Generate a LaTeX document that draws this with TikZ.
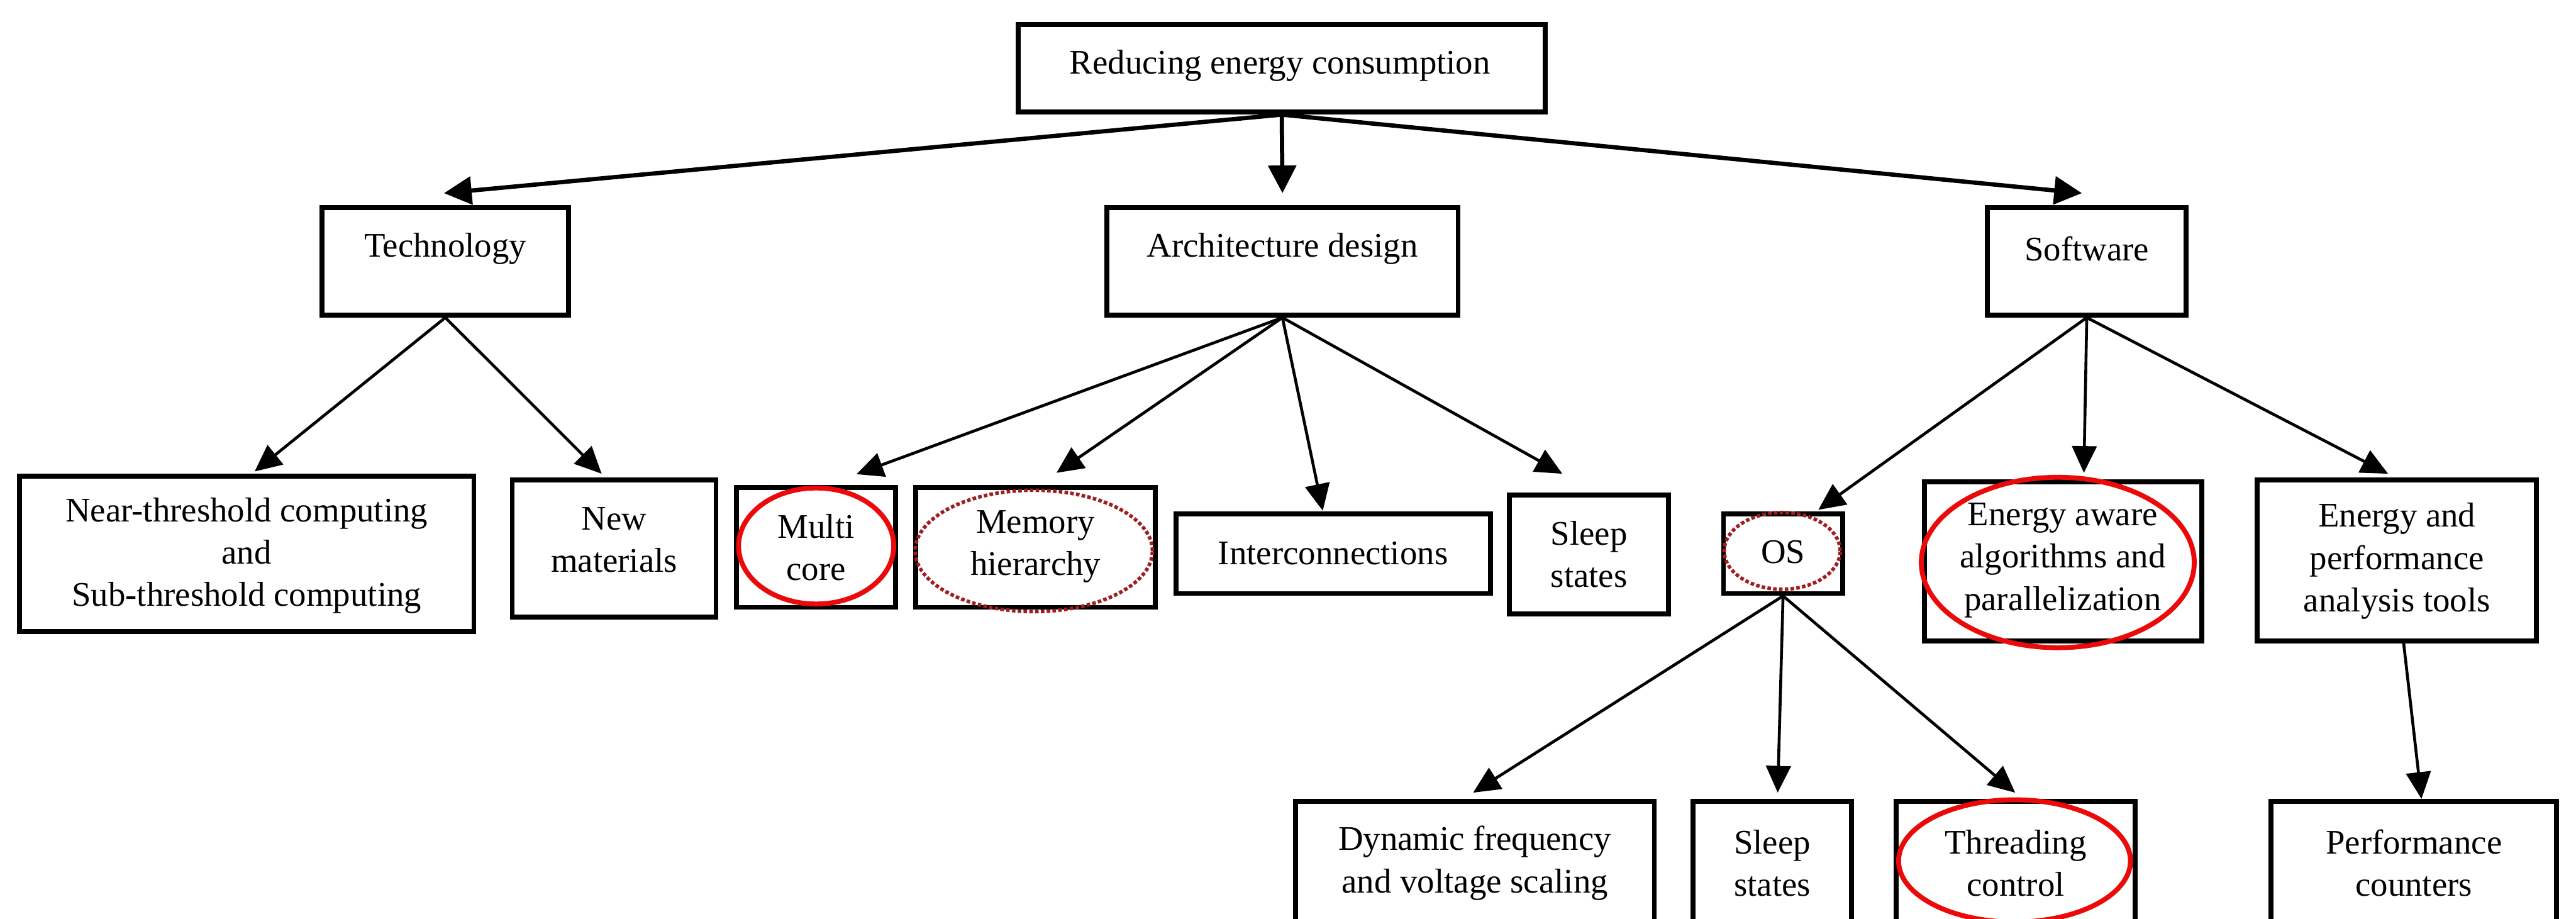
\documentclass[tikz,border=0pt]{standalone}
\usepackage{fontspec}
\setmainfont{Liberation Serif}
\usetikzlibrary{arrows.meta,calc,shapes.geometric}
\definecolor{ringred}{RGB}{235,10,10}
\definecolor{ringdark}{RGB}{160,30,30}
\tikzset{
  box/.style={draw, rectangle, line width=0.11cm, inner sep=0pt},
  txt/.style={font=\fontsize{22}{27}\selectfont, align=center, inner sep=0pt},
  arr/.style={line width=0.065cm, -{Triangle[length=0.6cm,width=0.55cm]}},
  toparr/.style={line width=0.095cm, -{Triangle[length=0.62cm,width=0.62cm]}},
  ring/.style={ellipse, draw=ringred, line width=0.11cm, inner sep=0pt},
  dring/.style={ellipse, draw=ringdark, line width=0.08cm, dash pattern=on 0.08cm off 0.05cm, inner sep=0pt},
}
\begin{document}
\begin{tikzpicture}
\useasboundingbox (0,0) rectangle (57.76,-20.59);
\clip (0,0) rectangle (57.76,-20.59);
\fill[white] (0,0) rectangle (57.76,-20.59);

% root
\node[box, minimum width=11.81cm, minimum height=1.97cm] (root) at (28.74,-1.53) {};
\node[txt] (troot) at (28.70,-1.47) {Reducing energy consumption};

% level 1
\node[box, minimum width=5.52cm, minimum height=2.41cm] (tech) at (9.985,-5.86) {};
\node[txt] (ttech) at (9.985,-5.58) {Technology};
\node[box, minimum width=7.88cm, minimum height=2.41cm] (arch) at (28.755,-5.86) {};
\node[txt] (tarch) at (28.755,-5.58) {Architecture design};
\node[box, minimum width=4.45cm, minimum height=2.41cm] (soft) at (46.79,-5.86) {};
\node[txt] (tsoft) at (46.79,-5.58) {Software};

% level 2
\node[box, minimum width=10.19cm, minimum height=3.48cm] (nt) at (5.53,-12.415) {};
\node[txt] (tnt) at (5.53,-12.46) {Near-threshold computing\\and\\Sub-threshold computing};
\node[box, minimum width=4.57cm, minimum height=3.07cm] (nm) at (13.77,-12.30) {};
\node[txt] (tnm) at (13.77,-12.10) {New\\materials};
\node[box, minimum width=3.56cm, minimum height=2.69cm] (mc) at (18.295,-12.27) {};
\node[txt] (tmc) at (18.30,-12.27) {Multi\\core};
\node[box, minimum width=5.37cm, minimum height=2.69cm] (mh) at (23.22,-12.27) {};
\node[txt] (tmh) at (23.22,-12.25) {Memory\\hierarchy};
\node[box, minimum width=7.05cm, minimum height=1.78cm] (ic) at (29.89,-12.415) {};
\node[txt] (tic) at (29.89,-12.40) {Interconnections};
\node[box, minimum width=3.57cm, minimum height=2.67cm] (ss) at (35.63,-12.43) {};
\node[txt] (tss) at (35.63,-12.43) {Sleep\\states};
\node[box, minimum width=2.67cm, minimum height=1.78cm] (os) at (39.98,-12.415) {};
\node[txt] (tos) at (39.98,-12.38) {OS};
\node[box, minimum width=6.22cm, minimum height=3.56cm] (ea) at (46.255,-12.585) {};
\node[txt] (tea) at (46.25,-12.56) {Energy aware\\algorithms and\\parallelization};
\node[box, minimum width=6.26cm, minimum height=3.60cm] (ep) at (53.745,-12.565) {};
\node[txt] (tep) at (53.745,-12.58) {Energy and\\performance\\analysis tools};

% level 3
\node[box, minimum width=8.05cm, minimum height=3.49cm] (dv) at (33.07,-19.71) {};
\node[txt] (tdv) at (33.07,-19.35) {Dynamic frequency\\and voltage scaling};
\node[box, minimum width=3.55cm, minimum height=3.49cm] (ss2) at (39.74,-19.71) {};
\node[txt] (tss2) at (39.74,-19.35) {Sleep\\states};
\node[box, minimum width=5.36cm, minimum height=3.49cm] (tc) at (45.195,-19.71) {};
\node[txt] (ttc) at (45.195,-19.35) {Threading\\control};
\node[box, minimum width=6.40cm, minimum height=3.49cm] (pc) at (54.125,-19.71) {};
\node[txt] (tpc) at (54.125,-19.35) {Performance\\counters};

% highlight rings
\node[ring, minimum width=3.48cm, minimum height=2.60cm] (rmc) at (18.30,-12.24) {};
\node[dring, minimum width=5.32cm, minimum height=2.72cm] (rmh) at (23.18,-12.35) {};
\node[dring, minimum width=2.60cm, minimum height=1.72cm] (ros) at (39.96,-12.35) {};
\node[ring, minimum width=6.12cm, minimum height=3.82cm] (rea) at (46.14,-12.61) {};
\node[ring, minimum width=5.20cm, minimum height=2.74cm] (rtc) at (45.17,-19.30) {};

% connectors
\draw[toparr] (root.south) -- ($(tech.north)+(-0.03,0.27)$);
\draw[toparr] (root.south) -- ($(arch.north)+(0,0.27)$);
\draw[toparr] (root.south) -- ($(soft.north)+(-0.11,0.27)$);

\draw[arr] (tech.south) -- ($(nt.north)+(0.18,0.05)$);
\draw[arr] (tech.south) -- ($(nm.north)+(-0.28,0.09)$);

\draw[arr] (arch.south) -- ($(mc.north)+(0.91,0.24)$);
\draw[arr] (arch.south) -- ($(mh.north)+(0.47,0.27)$);
\draw[arr] (arch.south) -- ($(ic.north)+(-0.23,0.02)$);
\draw[arr] (arch.south) -- ($(ss.north)+(-0.60,0.42)$);

\draw[arr] (soft.south) -- ($(os.north)+(0.79,0.04)$);
\draw[arr] (soft.south) -- ($(ea.north)+(0.47,0.15)$);
\draw[arr] (soft.south) -- ($(ep.north)+(-0.20,0.09)$);

\draw[arr] (os.south) -- ($(dv.north)+(-0.04,0.14)$);
\draw[arr] (os.south) -- ($(ss2.north)+(0.12,0.14)$);
\draw[arr] (os.south) -- ($(tc.north)+(-0.01,0.14)$);

\draw[arr] ($(ep.south)+(0.15,0)$) -- ($(pc.north)+(0.17,0)$);
\end{tikzpicture}
\end{document}
